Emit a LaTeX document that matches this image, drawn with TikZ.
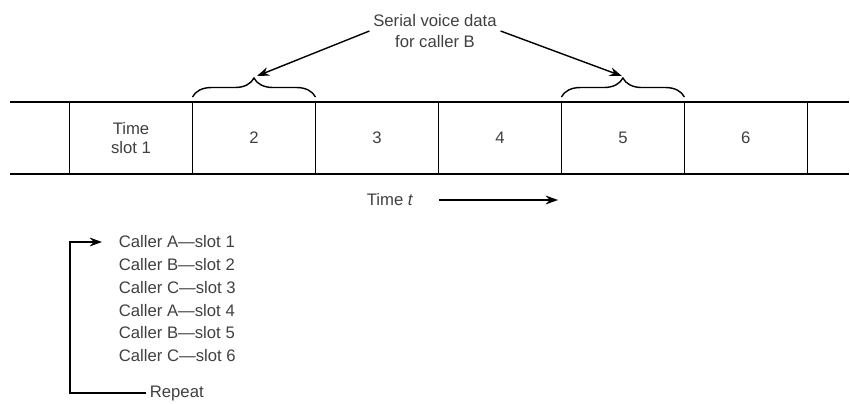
\documentclass[tikz,border=0pt]{standalone}
\usepackage{fontspec}
\setmainfont{Liberation Sans}
\usetikzlibrary{arrows.meta, positioning, calc, decorations.pathreplacing}

\begin{document}
\begin{tikzpicture}[x=0.02cm, y=-0.02cm,
    slot/.style={draw, line width=0.8pt, minimum width=2.46cm, minimum height=1.44cm,
        inner sep=0pt, outer sep=0pt, align=center, text=darkgray, font=\fontsize{9.5}{11}\selectfont},
    lbl/.style={text=darkgray, font=\fontsize{9.5}{12}\selectfont, inner sep=2pt},
    arr/.style={line width=0.8pt, -{Stealth[length=7pt, width=5pt]}},
    brc/.style={line width=0.8pt, decorate, decoration={brace, amplitude=0.38cm}}]
    \useasboundingbox (0,0) rectangle (850,403);

    % time slots
    \node[slot] (s1) at (131,138) {Time\\slot 1};
    \foreach \n [count=\p from 1] in {2,...,6}
        \node[slot, right=0pt of s\p] (s\n) {\n};
    \draw[line width=0.8pt] ($(s1.north west)+(-60,0)$) -- ($(s6.north east)+(42,0)$);
    \draw[line width=0.8pt] ($(s1.south west)+(-60,0)$) -- ($(s6.south east)+(42,0)$);

    % braces over slots 2 and 5
    \draw[brc] ($(s2.north west)+(0,-5)$) -- ($(s2.north east)+(0,-5)$);
    \draw[brc] ($(s5.north west)+(0,-5)$) -- ($(s5.north east)+(0,-5)$);
    \coordinate (tipB) at ($(s2.north)+(3,-26)$);
    \coordinate (tipE) at ($(s5.north)+(-1,-26)$);

    \node[lbl, align=center] (title) at (435,31) {Serial voice data\\for caller B};
    \draw[arr] (title.west) -- (tipB);
    \draw[arr] (title.east) -- (tipE);

    % time axis
    \node[lbl] (time) at (390,200) {Time \textit{t}};
    \coordinate (tend) at (558,200);
    \draw[arr] ($(time.east)+(22,0)$) -- (tend);

    % caller order
    \foreach \txt [count=\k from 0] in {Caller A---slot 1, Caller B---slot 2, Caller C---slot 3,
            Caller A---slot 4, Caller B---slot 5, Caller C---slot 6}
        \node[lbl, anchor=west] (c\k) at (115,{242+22.7*\k}) {\txt};
    \node[lbl, anchor=west] (rep) at (146,393) {Repeat};
    \draw[arr] (rep.west) -- ++(-76,0) |- ($(c0.west)+(-13,0)$);
\end{tikzpicture}
\end{document}
